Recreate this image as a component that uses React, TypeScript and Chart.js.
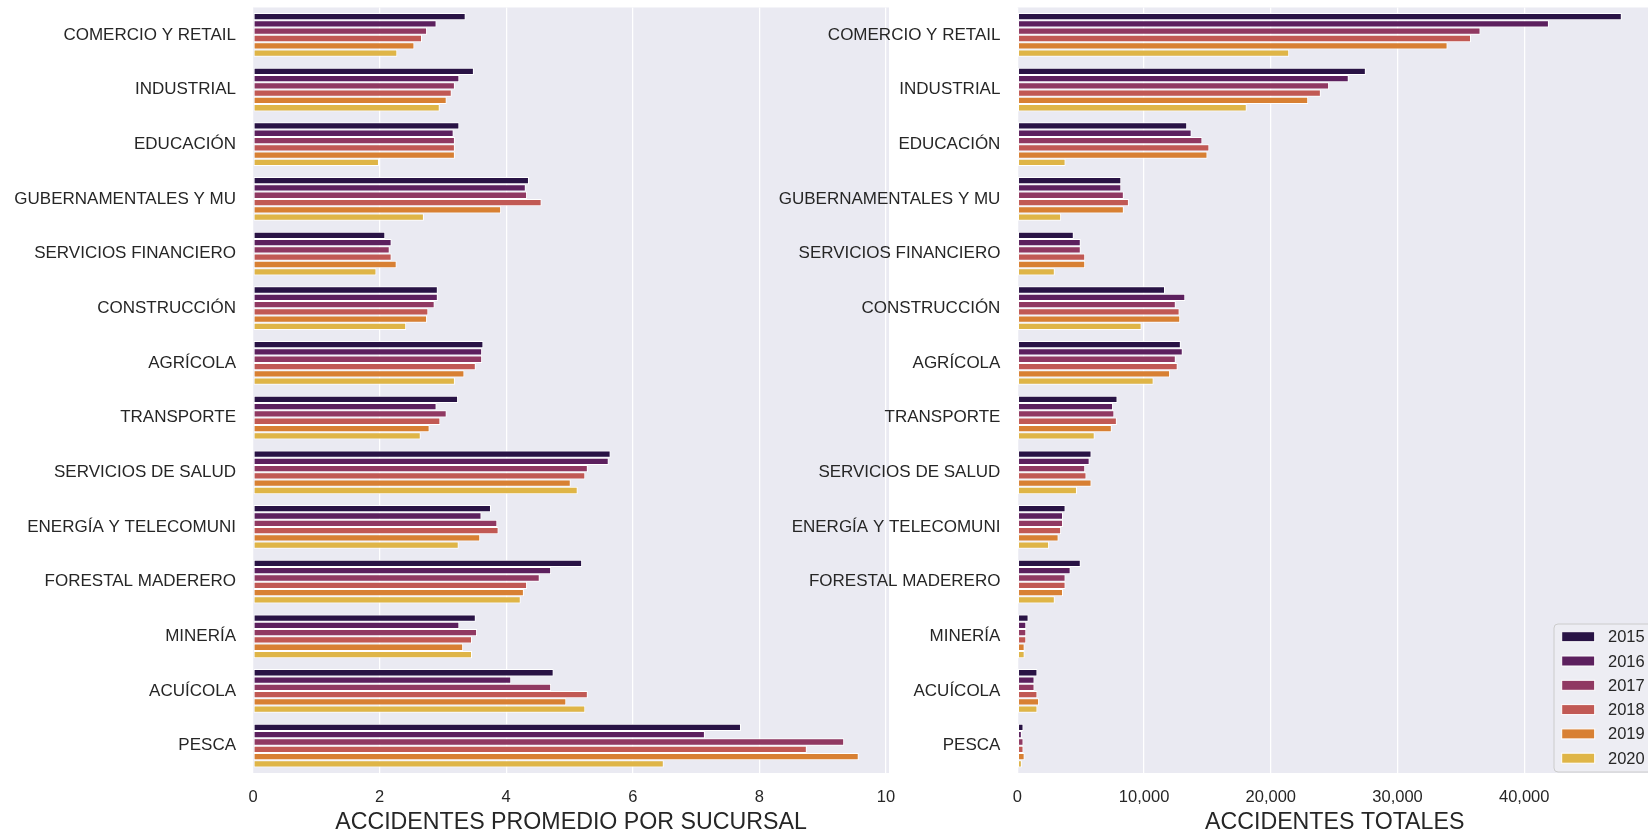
import React, { useEffect, useRef } from 'react';
import { Chart, registerables } from 'chart.js';

Chart.register(...registerables);

const categories = [
  'COMERCIO Y RETAIL',
  'INDUSTRIAL',
  'EDUCACIÓN',
  'GUBERNAMENTALES Y MU',
  'SERVICIOS FINANCIERO',
  'CONSTRUCCIÓN',
  'AGRÍCOLA',
  'TRANSPORTE',
  'SERVICIOS DE SALUD',
  'ENERGÍA Y TELECOMUNI',
  'FORESTAL MADERERO',
  'MINERÍA',
  'ACUÍCOLA',
  'PESCA',
];

const years = ['2015', '2016', '2017', '2018', '2019', '2020'];

const yearColors = ['#291345', '#5c205e', '#903962', '#c15954', '#d88033', '#dfb547'];

// Accidentes promedio por sucursal (one array per year, in category order)
const avg2015 = [3.36, 3.49, 3.26, 4.36, 2.09, 2.92, 3.64, 3.24, 5.65, 3.76, 5.2, 3.52, 4.75, 7.71];
const avg2016 = [2.9, 3.26, 3.17, 4.31, 2.19, 2.92, 3.62, 2.9, 5.62, 3.61, 4.71, 3.26, 4.08, 7.14];
const avg2017 = [2.75, 3.19, 3.19, 4.33, 2.16, 2.87, 3.62, 3.06, 5.29, 3.86, 4.53, 3.54, 4.71, 9.34];
const avg2018 = [2.67, 3.14, 3.19, 4.56, 2.19, 2.77, 3.52, 2.96, 5.25, 3.88, 4.33, 3.46, 5.29, 8.75];
const avg2019 = [2.55, 3.06, 3.19, 3.92, 2.27, 2.75, 3.34, 2.79, 5.02, 3.59, 4.28, 3.32, 4.95, 9.57];
const avg2020 = [2.28, 2.95, 1.99, 2.7, 1.95, 2.42, 3.19, 2.65, 5.13, 3.25, 4.23, 3.46, 5.25, 6.49];

// Accidentes totales (one array per year, in category order)
const tot2015 = [47700, 27500, 13400, 8200, 4450, 11650, 12900, 7900, 5850, 3800, 5000, 880, 1580, 480];
const tot2016 = [41950, 26150, 13750, 8200, 5000, 13250, 13050, 7550, 5700, 3600, 4200, 700, 1350, 350];
const tot2017 = [36550, 24600, 14600, 8400, 5000, 12500, 12500, 7650, 5350, 3600, 3800, 700, 1350, 480];
const tot2018 = [35800, 23950, 15150, 8800, 5350, 12800, 12650, 7850, 5450, 3450, 3800, 700, 1580, 480];
const tot2019 = [33950, 22950, 15000, 8400, 5350, 12850, 12050, 7450, 5850, 3250, 3600, 570, 1710, 570];
const tot2020 = [21450, 18100, 3800, 3450, 2950, 9800, 10750, 6100, 4700, 2500, 2950, 570, 1580, 350];

const avgTicks = [0, 2, 4, 6, 8, 10];
const totTicks = [0, 10000, 20000, 30000, 40000];

const avgSeries = [avg2015, avg2016, avg2017, avg2018, avg2019, avg2020];
const totSeries = [tot2015, tot2016, tot2017, tot2018, tot2019, tot2020];

const FONT = "'Liberation Sans', Arial, Helvetica, sans-serif";
const TEXT = '#262626';
const BG = '#eaeaf2';

const bgPlugin = {
  id: 'axesBg',
  beforeDraw(chart: any) {
    const { ctx, chartArea } = chart;
    if (!chartArea) return;
    ctx.save();
    ctx.fillStyle = BG;
    ctx.fillRect(chartArea.left, chartArea.top, chartArea.right - chartArea.left, chartArea.bottom - chartArea.top);
    ctx.restore();
  },
};

const legendPlugin = {
  id: 'innerLegend',
  afterDraw(chart: any) {
    const { ctx, chartArea } = chart;
    const r = chartArea.right;
    const b = chartArea.bottom;
    ctx.save();
    const bx = r - 98;
    const by = b - 149;
    const bw = 120;
    const bh = 148;
    const rad = 4;
    ctx.beginPath();
    ctx.moveTo(bx + rad, by);
    ctx.lineTo(bx + bw, by);
    ctx.lineTo(bx + bw, by + bh);
    ctx.lineTo(bx + rad, by + bh);
    ctx.quadraticCurveTo(bx, by + bh, bx, by + bh - rad);
    ctx.lineTo(bx, by + rad);
    ctx.quadraticCurveTo(bx, by, bx + rad, by);
    ctx.closePath();
    ctx.fillStyle = '#ededf3';
    ctx.fill();
    ctx.strokeStyle = '#cccccc';
    ctx.lineWidth = 1;
    ctx.stroke();
    chart.data.datasets.forEach((ds: any, i: number) => {
      const cy = b - 136.3 + i * 24.3;
      ctx.fillStyle = ds.backgroundColor;
      ctx.fillRect(r - 90.3, cy - 5, 33, 10);
      ctx.strokeStyle = '#ffffff';
      ctx.lineWidth = 1;
      ctx.strokeRect(r - 90.3, cy - 5, 33, 10);
      ctx.fillStyle = TEXT;
      ctx.font = `16.5px ${FONT}`;
      ctx.textAlign = 'left';
      ctx.textBaseline = 'middle';
      ctx.fillText(ds.label, r - 44, cy + 1);
    });
    ctx.restore();
  },
};

function makeConfig(
  series: number[][],
  opts: { yWidth: number; padRight: number; ticks: number[]; title: string; fmt: (v: number) => string; legend: boolean }
) {
  const maxVal = Math.max(...series.flat()) * 1.05;
  return {
    type: 'bar' as const,
    data: {
      labels: categories,
      datasets: years.map((y, i) => ({
        label: y,
        data: series[i],
        backgroundColor: yearColors[i],
        borderColor: '#ffffff',
        borderWidth: 1,
        borderSkipped: false,
        categoryPercentage: 0.8,
        barPercentage: 1.0,
      })),
    },
    options: {
      indexAxis: 'y' as const,
      responsive: false,
      animation: false as const,
      layout: { padding: { left: 0, right: opts.padRight, top: 7.5, bottom: 0 } },
      plugins: {
        legend: { display: false },
        tooltip: { enabled: false },
        title: { display: false },
      },
      scales: {
        y: {
          type: 'category' as const,
          offset: true,
          grid: { display: false, drawTicks: false },
          border: { display: false },
          ticks: {
            autoSkip: false,
            color: TEXT,
            padding: 17,
            font: { family: FONT, size: 17 },
          },
          afterFit: (s: any) => {
            s.width = opts.yWidth;
            s.paddingTop = 0;
            s.paddingBottom = 0;
          },
        },
        x: {
          type: 'linear' as const,
          min: 0,
          max: maxVal,
          grid: { color: '#ffffff', lineWidth: 1.25, drawTicks: false },
          border: { display: false },
          afterBuildTicks: (s: any) => {
            s.ticks = opts.ticks.map((v) => ({ value: v }));
          },
          ticks: {
            color: TEXT,
            padding: 15,
            font: { family: FONT, size: 16.5 },
            maxRotation: 0,
            autoSkip: false,
            callback: (v: any) => opts.fmt(Number(v)),
          },
          title: {
            display: true,
            text: opts.title,
            color: TEXT,
            font: { family: FONT, size: 23.2, lineHeight: 1.0 },
            padding: { top: 0, bottom: 0 },
          },
          afterFit: (s: any) => {
            s.height = 61;
            s.paddingLeft = 0;
            s.paddingRight = 0;
          },
        },
      },
    },
    plugins: opts.legend ? [bgPlugin, legendPlugin] : [bgPlugin],
  };
}

export default function App() {
  const leftRef = useRef<HTMLCanvasElement | null>(null);
  const rightRef = useRef<HTMLCanvasElement | null>(null);

  useEffect(() => {
    const left = new Chart(
      leftRef.current as HTMLCanvasElement,
      makeConfig(avgSeries, {
        yWidth: 253,
        padRight: 11,
        ticks: avgTicks,
        title: 'ACCIDENTES PROMEDIO POR SUCURSAL',
        fmt: (v) => String(v),
        legend: false,
      }) as any
    );
    const right = new Chart(
      rightRef.current as HTMLCanvasElement,
      makeConfig(totSeries, {
        yWidth: 257.4,
        padRight: 0,
        ticks: totTicks,
        title: 'ACCIDENTES TOTALES',
        fmt: (v) => v.toLocaleString('en-US'),
        legend: true,
      }) as any
    );
    return () => {
      left.destroy();
      right.destroy();
    };
  }, []);

  return (
    <div
      style={{
        position: 'absolute',
        left: 0,
        top: 0,
        width: 1648,
        height: 834,
        overflow: 'hidden',
        background: '#ffffff',
      }}
    >
      <canvas ref={leftRef} width={900} height={834} style={{ position: 'absolute', left: 0, top: 0 }} />
      <canvas ref={rightRef} width={892} height={834} style={{ position: 'absolute', left: 760, top: 0 }} />
    </div>
  );
}
